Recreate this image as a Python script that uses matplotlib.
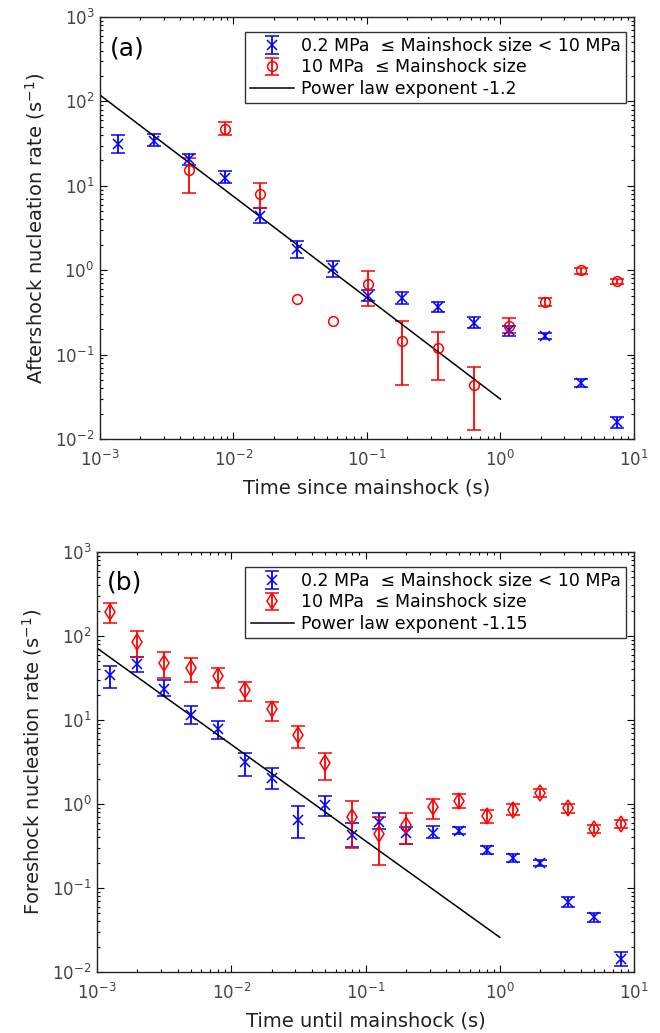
import numpy as np
import matplotlib.pyplot as plt

# ---- panel (a): aftershocks ----
t_a = [1.37e-3, 2.52e-3, 4.64e-3, 8.66e-3, 1.59e-2, 2.99e-2, 5.52e-2, 0.101,
       0.184, 0.343, 0.63, 1.16, 2.16, 3.98, 7.45]
blue_a = [31, 34, 20.6, 12.5, 4.42, 1.8, 1.05, 0.493, 0.463, 0.369, 0.239,
          0.196, 0.166, 0.0458, 0.0157]
blue_a_hi = [40, 40.7, 24, 14.8, 5.45, 2.2, 1.28, 0.59, 0.55, 0.42, 0.276,
             0.218, 0.182, 0.051, 0.018]
blue_a_lo = [24.6, 29.7, 17.7, 10.9, 3.62, 1.4, 0.83, 0.43, 0.40, 0.32, 0.208,
             0.166, 0.152, 0.041, 0.0135]

t_a_red = t_a[2:]
red_a = [15.5, 47.5, 7.97, 0.454, 0.252, 0.684, 0.146, 0.119, 0.0438, 0.218,
         0.423, 1.0, 0.741]
# None = error bar too small to see
red_a_hi = [21.6, 57, 10.7, None, None, 0.98, 0.252, 0.184, 0.072, 0.269,
            0.463, 1.075, 0.79]
red_a_lo = [8.3, 39.6, 5.5, None, None, 0.376, 0.0438, 0.0502, 0.0127, 0.179,
            0.376, 0.913, 0.696]

fit_a_t = [1e-3, 1.0]
fit_a_r = [119, 0.0297]

# ---- panel (b): foreshocks ----
t_b = [1.25e-3, 1.98e-3, 3.13e-3, 5.0e-3, 7.9e-3, 1.26e-2, 2.0e-2, 3.16e-2,
       5.0e-2, 7.9e-2, 0.126, 0.20, 0.316, 0.50, 0.80, 1.26, 2.0, 3.2, 5.0, 8.0]
blue_b = [34, 46.9, 23.7, 11.5, 7.76, 3.16, 2.07, 0.647, 0.973, 0.43, 0.618,
          0.458, 0.458, 0.484, 0.286, 0.226, 0.199, 0.0684, 0.0447, 0.0144]
blue_b_hi = [44.4, 57, 29.7, 14.7, 9.7, 4.04, 2.71, 0.955, 1.24, 0.59, 0.776,
             0.53, 0.55, 0.54, 0.319, 0.254, 0.218, 0.079, 0.050, 0.0172]
blue_b_lo = [24.2, 37.3, 19.2, 8.9, 5.9, 2.14, 1.53, 0.397, 0.728, 0.308, 0.502,
             0.337, 0.393, 0.438, 0.257, 0.203, 0.182, 0.060, 0.0397, 0.0118]

red_b = [195, 84.5, 47.7, 41.6, 33.2, 22.6, 13.4, 6.64, 3.05, 0.709, 0.442,
         0.565, 0.914, 1.09, 0.722, 0.85, 1.36, 0.889, 0.502, 0.58]
red_b_hi = [249, 115, 64.4, 54.7, 41.7, 28.4, 16.6, 8.5, 4.04, 1.09, 0.71,
            0.776, 1.135, 1.30, 0.85, 0.99, 1.53, 0.99, 0.565, 0.647]
red_b_lo = [142, 57, 31.7, 28.4, 24.2, 16.8, 9.7, 4.6, 1.92, 0.30, 0.19,
            0.334, 0.659, 0.889, 0.60, 0.74, 1.2, 0.79, 0.45, 0.525]

fit_b_t = [1e-3, 1.0]
fit_b_r = [71.8, 0.0259]

lab_blue = '0.2 MPa  \u2264 Mainshock size < 10 MPa'
lab_red = '10 MPa  \u2264 Mainshock size'


def yerr(v, lo, hi):
    v = np.array(v, dtype=float)
    lo = np.array([np.nan if x is None else x for x in lo], dtype=float)
    hi = np.array([np.nan if x is None else x for x in hi], dtype=float)
    return [v - lo, hi - v]


def panel(ax, t, b, blo, bhi, tr, r, rlo, rhi, red_marker, red_ms, ft, fr,
          fitlab, tag, xlabel, ylabel):
    hb = ax.errorbar(t, b, yerr=yerr(b, blo, bhi), fmt='x', color='blue', ms=7,
                     mew=1.1, elinewidth=1.3, capsize=5, capthick=1.3)
    hr = ax.errorbar(tr, r, yerr=yerr(r, rlo, rhi), fmt=red_marker, color='red',
                     mfc='none', ms=red_ms, mew=1.1, elinewidth=1.3, capsize=5,
                     capthick=1.3)
    hl, = ax.plot(ft, fr, color='black', lw=1.1)
    ax.set_xscale('log')
    ax.set_yscale('log')
    ax.set_xlim(1e-3, 10)
    ax.set_ylim(1e-2, 1e3)
    ax.tick_params(which='both', direction='in', top=True, right=True,
                   labelsize=12, labelcolor='#444444', width=0.8)
    ax.tick_params(axis='x', which='major', pad=8)
    ax.tick_params(axis='y', which='major', pad=4)
    ax.tick_params(which='major', length=5)
    ax.tick_params(which='minor', length=2.5)
    for s in ax.spines.values():
        s.set_linewidth(1.0)
        s.set_color('#222222')
    ax.set_xlabel(xlabel, fontsize=14, color='#222222', labelpad=6)
    ax.set_ylabel(ylabel, fontsize=14, color='#222222', labelpad=6)
    ax.text(0.018, 0.955, tag, transform=ax.transAxes, fontsize=18,
            va='top', ha='left')
    leg = ax.legend([hb, hr, hl], [lab_blue, lab_red, fitlab],
                    loc='upper right', fontsize=12.5, frameon=True,
                    fancybox=False, edgecolor='black', handlelength=2.5,
                    borderpad=0.3, labelspacing=0.2, handletextpad=0.4,
                    borderaxespad=0, bbox_to_anchor=(0.985, 0.965))
    leg.get_frame().set_linewidth(1.0)


fig = plt.figure(figsize=(6.6, 10.33), dpi=100)
ax1 = fig.add_axes([0.1515, 0.575, 0.809, 0.4085])
ax2 = fig.add_axes([0.147, 0.059, 0.8136, 0.4066])

panel(ax1, t_a, blue_a, blue_a_lo, blue_a_hi, t_a_red, red_a, red_a_lo, red_a_hi,
      'o', 7, fit_a_t, fit_a_r, 'Power law exponent -1.2', '(a)',
      'Time since mainshock (s)', 'Aftershock nucleation rate (s$^{-1}$)')
panel(ax2, t_b, blue_b, blue_b_lo, blue_b_hi, t_b, red_b, red_b_lo, red_b_hi,
      'd', 8, fit_b_t, fit_b_r, 'Power law exponent -1.15', '(b)',
      'Time until mainshock (s)', 'Foreshock nucleation rate (s$^{-1}$)')

fig.savefig('out.png', dpi=100)
